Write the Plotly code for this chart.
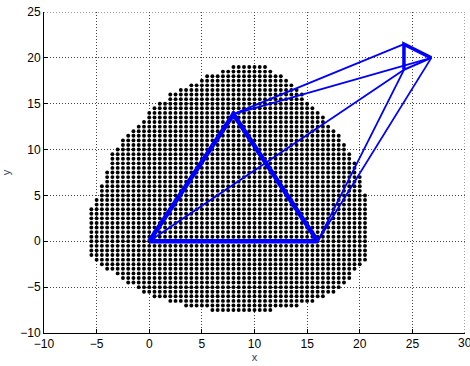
import numpy as np
import plotly.graph_objects as go

# Outline of the reachable region (x, y), traced clockwise from the top
region_x = [8.2, 10.6, 12.4, 13.4, 14.3, 15.1, 17.8, 18.6, 19.5, 20.0, 20.5, 20.6,
            18.6, 17.2, 15.6, 13.6, 11.1, 6.3, 3.8, 2.1, 0.9, -1.2, -2.6, -4.8,
            -5.7, -5.7, -4.9, -4.4, -3.9, -3.5, -3.0, -2.1, -1.6, -0.6, 0.4, 1.5,
            2.2, 3.1, 3.9, 4.9, 5.9, 7.5]
region_y = [19.3, 19.3, 18.2, 17.3, 16.3, 15.3, 11.9, 10.7, 8.6, 7.1, 5.4, -2.2,
            -4.5, -5.9, -6.7, -7.1, -7.6, -7.6, -7.1, -6.7, -6.2, -5.2, -4.1, -2.4,
            -1.6, 3.3, 5.1, 6.8, 8.2, 9.5, 10.4, 11.7, 12.4, 13.3, 14.7, 15.3,
            16.3, 16.6, 17.1, 17.7, 18.2, 18.8]
grid_step = 0.5

# Base triangle (closed)
base_x = [0, 16, 8, 0]
base_y = [0, 0, 13.86, 0]

# Moving platform vertices A, B, C (closed)
plat_x = [24.2, 26.8, 24.2, 24.2]
plat_y = [21.5, 20.0, 18.7, 21.5]

# Legs: (base vertex index, platform vertex index)
legs = [(2, 0), (2, 1), (1, 2), (1, 1), (0, 2)]

x_range = [-10, 30]
y_range = [-10, 25]


def inside(px, py, vx, vy):
    vx = np.asarray(vx); vy = np.asarray(vy)
    res = np.zeros(px.shape, dtype=bool)
    n = len(vx)
    j = n - 1
    for i in range(n):
        xi, yi, xj, yj = vx[i], vy[i], vx[j], vy[j]
        cond = ((yi > py) != (yj > py)) & (
            px < (xj - xi) * (py - yi) / (yj - yi + 1e-12) + xi)
        res ^= cond
        j = i
    return res


gx, gy = np.meshgrid(np.arange(-8, 23, grid_step), np.arange(-9, 22, grid_step))
gx = gx.ravel(); gy = gy.ravel()
mask = inside(gx, gy, region_x, region_y)

fig = go.Figure()
fig.add_trace(go.Scatter(
    x=gx[mask], y=gy[mask], mode="markers",
    marker=dict(symbol="circle", size=3.9, color="black", line=dict(width=0)),
    hoverinfo="skip"))

blue = "#0000FF"
for bi, pi in legs:
    fig.add_trace(go.Scatter(
        x=[base_x[bi], plat_x[pi]], y=[base_y[bi], plat_y[pi]],
        mode="lines", line=dict(color=blue, width=1.8)))

fig.add_trace(go.Scatter(x=base_x, y=base_y, mode="lines",
                         line=dict(color=blue, width=4.5)))
# platform: edges A-B and C-A heavy, B-C lighter
fig.add_trace(go.Scatter(x=[plat_x[1], plat_x[2]], y=[plat_y[1], plat_y[2]],
                         mode="lines", line=dict(color=blue, width=2)))
fig.add_trace(go.Scatter(x=[plat_x[2], plat_x[0], plat_x[1]],
                         y=[plat_y[2], plat_y[0], plat_y[1]],
                         mode="lines", line=dict(color=blue, width=3.5)))

grid_color = "#444444"
grid_dash = "1px,2px"

# dotted grid lines along the open top and right edges
fig.add_shape(type="line", x0=x_range[0], x1=x_range[1], y0=y_range[1], y1=y_range[1],
              line=dict(color=grid_color, width=1, dash=grid_dash), layer="below")
fig.add_shape(type="line", x0=x_range[1], x1=x_range[1], y0=y_range[0], y1=y_range[1],
              line=dict(color=grid_color, width=1, dash=grid_dash), layer="below")

tick_font = dict(family="Liberation Sans, Arial", size=12, color="black")

# last x tick label sits on the right edge of the figure
fig.add_annotation(x=x_range[1], y=0, yref="paper", text=str(x_range[1]),
                   showarrow=False, yanchor="top", xanchor="center", yshift=-1,
                   font=tick_font)

axis_common = dict(
    showgrid=True, gridcolor=grid_color, griddash=grid_dash, gridwidth=1,
    zeroline=False, showline=True, linecolor="black", linewidth=1,
    ticks="inside", ticklen=4, tickcolor="black", mirror=False,
    tickfont=tick_font, dtick=5,
)

fig.update_layout(
    width=470, height=366,
    margin=dict(l=44, r=5, t=12, b=33),
    paper_bgcolor="white", plot_bgcolor="white",
    showlegend=False,
    xaxis=dict(range=x_range, title=dict(text="x", standoff=2,
               font=dict(family="Liberation Sans, Arial", size=11)), **axis_common),
    yaxis=dict(range=y_range, title=dict(text="y", standoff=8,
               font=dict(family="Liberation Sans, Arial", size=11)), **axis_common),
)

fig.write_html("out.html")
